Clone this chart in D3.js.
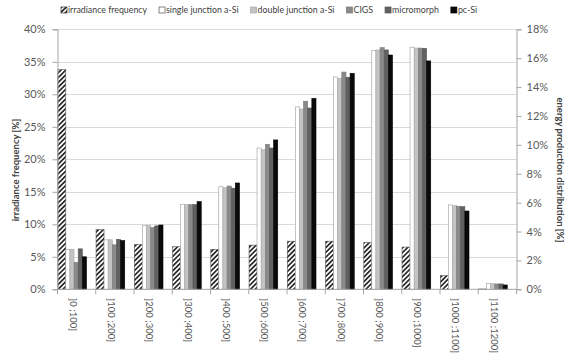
<!DOCTYPE html>
<html><head><meta charset="utf-8">
<script src="https://cdn.jsdelivr.net/npm/d3@7/dist/d3.min.js"></script>
<style>
body{margin:0;background:#fff;}
svg{display:block;font-family:Lato,"Open Sans",sans-serif;}
</style></head>
<body><svg id="c" width="570" height="362"></svg>
<script>
const categories = ["]0 ;100]","]100 ;200]","]200 ;300]","]300 ;400]","]400 ;500]","]500 ;600]","]600 ;700]","]700 ;800]","]800 ;900]","]900 ;1000]","]1000 ;1100]","]1100 ;1200]"];
const irradiance = [33.8, 9.2, 6.9, 6.55, 6.15, 6.8, 7.4, 7.4, 7.2, 6.5, 2.1, 0.05];
const singleJunction = [2.77, 3.42, 4.4, 5.89, 7.1, 9.78, 12.63, 14.7, 16.54, 16.76, 5.84, 0.39];
const doubleJunction = [2.77, 3.43, 4.43, 5.86, 7.03, 9.66, 12.48, 14.61, 16.57, 16.7, 5.79, 0.38];
const cigs = [1.87, 3.08, 4.27, 5.86, 7.15, 10.04, 13.02, 15.04, 16.73, 16.7, 5.75, 0.37];
const micromorph = [2.8, 3.46, 4.39, 5.86, 7.0, 9.78, 12.55, 14.68, 16.57, 16.68, 5.72, 0.37];
const pcSi = [2.25, 3.37, 4.45, 6.07, 7.36, 10.34, 13.22, 14.95, 16.22, 15.81, 5.42, 0.3];
const leftTicks = [0,5,10,15,20,25,30,35,40];
const rightTicks = [0,2,4,6,8,10,12,14,16,18];
const energySeries = [
  {name:"single junction a-Si", values:singleJunction, fill:"#ffffff", stroke:"#9a9a9a"},
  {name:"double junction a-Si", values:doubleJunction, fill:"#c4c4c4", stroke:"#a8a8a8"},
  {name:"CIGS", values:cigs, fill:"#8a8a8a", stroke:"#7a7a7a"},
  {name:"micromorph", values:micromorph, fill:"#616161", stroke:"#555"},
  {name:"pc-Si", values:pcSi, fill:"#0a0a0a", stroke:"#000"}
];

const svg = d3.select("#c");
const L = 57.5, R = 516.5, T = 29.3, B = 289.3;
const x = d3.scaleBand().domain(categories).range([L, R]).padding(0);
const yL = d3.scaleLinear().domain([0,40]).range([B,T]);
const yR = d3.scaleLinear().domain([0,18]).range([B,T]);
const bw = x.bandwidth();
const hatchW = bw*0.209;
const sub = d3.scaleBand().domain(energySeries.map(d=>d.name)).range([hatchW+0.3, bw*0.758]).padding(0);

const defs = svg.append("defs");
const pat = defs.append("pattern").attr("id","hatch").attr("patternUnits","userSpaceOnUse")
  .attr("width",3.4).attr("height",3.4).attr("patternTransform","rotate(45)");
pat.append("rect").attr("width",3.4).attr("height",3.4).attr("fill","#fff");
pat.append("rect").attr("width",1.7).attr("height",3.4).attr("fill","#2a2a2a");

// gridlines
svg.append("g").selectAll("line").data(leftTicks.slice(1)).join("line")
  .attr("x1",L).attr("x2",R).attr("y1",d=>Math.round(yL(d))+0.5).attr("y2",d=>Math.round(yL(d))+0.5)
  .attr("stroke","#d9d9d9").attr("stroke-width",1);

// bars
const g = svg.append("g");
g.selectAll("rect.irr").data(irradiance).join("rect").attr("class","irr")
  .attr("x",(d,i)=>x(categories[i])+0.3).attr("width",hatchW)
  .attr("y",d=>yL(d)).attr("height",d=>B-yL(d))
  .attr("fill","url(#hatch)").attr("stroke","#555").attr("stroke-width",0.6);
energySeries.forEach(s=>{
  g.selectAll(null).data(s.values).join("rect")
    .attr("x",(d,i)=>x(categories[i])+sub(s.name)).attr("width",sub.bandwidth())
    .attr("y",d=>yR(d)).attr("height",d=>B-yR(d))
    .attr("fill",s.fill).attr("stroke",s.stroke).attr("stroke-width",0.6);
});

// axes
const axL = svg.append("g").attr("transform",`translate(${L},0)`)
  .call(d3.axisLeft(yL).tickValues(leftTicks).tickFormat(d=>d+"%").tickSize(5).tickPadding(7));
const axR = svg.append("g").attr("transform",`translate(${R},0)`)
  .call(d3.axisRight(yR).tickValues(rightTicks).tickFormat(d=>d+"%").tickSize(5).tickPadding(5));
[axL,axR].forEach(a=>{
  a.select(".domain").attr("stroke","#a6a6a6");
  a.selectAll(".tick line").attr("stroke","#a6a6a6");
  a.selectAll("text").attr("fill","#595959").style("font-size","11px").style("font-family","Lato");
});
const axB = svg.append("g").attr("transform",`translate(0,${B})`);
axB.append("line").attr("x1",L).attr("x2",R).attr("y1",0).attr("y2",0).attr("stroke","#a6a6a6");
axB.selectAll("line.t").data(d3.range(categories.length+1)).join("line").attr("class","t")
  .attr("x1",i=>L+i*bw).attr("x2",i=>L+i*bw).attr("y1",0).attr("y2",5).attr("stroke","#a6a6a6");
axB.selectAll("text").data(categories).join("text")
  .attr("transform",d=>`translate(${x(d)+bw/2-3.5},9) rotate(90)`)
  .attr("dy","0.35em").attr("fill","#595959").style("font-size","9.5px").text(d=>d);

// axis titles
svg.append("text").attr("transform",`translate(16,170) rotate(-90)`).attr("text-anchor","middle")
  .attr("dy","0.35em").attr("fill","#404040").style("font-size","9.5px").style("font-weight","bold")
  .text("irradiance frequency [%]");
svg.append("text").attr("transform",`translate(560,170) rotate(90)`).attr("text-anchor","middle")
  .attr("dy","0.35em").attr("fill","#404040").style("font-size","9.5px").style("font-weight","bold")
  .text("energy production distribution [%]");

// legend
const legendItems = [{name:"irradiance frequency", fill:"url(#hatch)", stroke:"#333"}].concat(energySeries);
let lx = 61;
const lg = svg.append("g");
legendItems.forEach(it=>{
  lg.append("rect").attr("x",lx).attr("y",7).attr("width",6).attr("height",6)
    .attr("fill",it.fill).attr("stroke",it.stroke==="#9a9a9a"?"#555":it.stroke).attr("stroke-width",0.7);
  const t = lg.append("text").attr("x",lx+7).attr("y",10).attr("dy","0.35em")
    .attr("fill","#404040").style("font-size","8.8px").text(it.name);
  lx += 7 + t.node().getComputedTextLength() + 12;
});
</script></body></html>
